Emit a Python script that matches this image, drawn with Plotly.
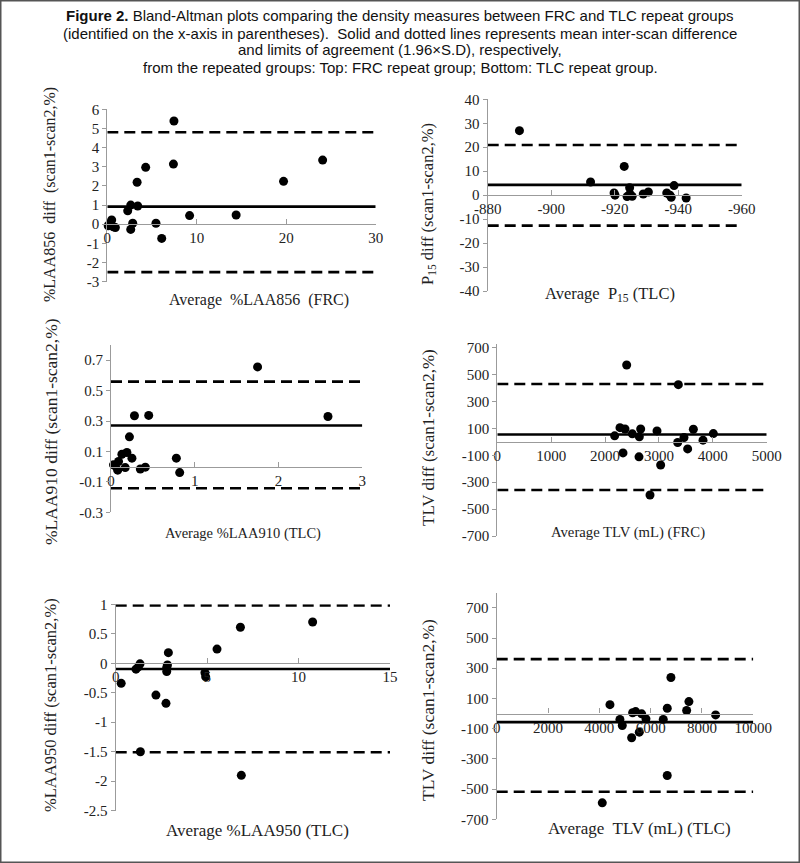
import plotly.graph_objects as go

W, H = 800, 863

# ---------------- data ----------------
# Panel A: %LAA856 (FRC)
laa856_avg = [7.45, 7.39, 4.29, 3.33, 24.07, 19.7, 9.2, 14.4, 2.62, 3.4, 2.28, 0.49, 0.30, 0.67, 0.1, 0.9, 2.84, 2.62, 5.44, 6.08]
laa856_diff = [5.39, 3.14, 2.97, 2.19, 3.35, 2.24, 0.45, 0.48, 1.0, 0.95, 0.70, 0.22, 0.05, -0.13, -0.08, -0.17, 0.05, -0.27, 0.05, -0.74]
laa856_lines = [0.92, 4.8, -2.5]  # mean, upper LoA, lower LoA

# Panel B: P15 (TLC)
p15_avg = [-890.0, -912.4, -923.0, -924.7, -919.8, -920.1, -923.9, -924.8, -925.5, -929.0, -930.6, -936.4, -937.4, -937.8, -938.7, -942.5]
p15_diff = [26.9, 5.5, 12.0, 3.1, 0.9, 0.0, -0.6, 0.5, -0.5, 0.5, 1.3, 0.9, 0.0, -0.9, 4.0, -1.2]
p15_lines = [4.3, 20.9, -12.7]

# Panel C: %LAA910 (TLC)
laa910_avg = [1.75, 2.59, 0.28, 0.45, 0.22, 0.13, 0.19, 0.25, 0.78, 0.03, 0.09, 0.08, 0.17, 0.35, 0.41, 0.82, 0.05]
laa910_diff = [0.656, 0.33, 0.335, 0.337, 0.196, 0.082, 0.093, 0.056, 0.056, 0.012, 0.034, -0.023, -0.006, -0.015, -0.003, -0.039, 0.005]
laa910_lines = [0.271, 0.559, -0.142]

# Panel D: TLV (FRC)
tlvf_avg = [2401, 3360, 2178, 2277, 2370, 2333, 2506, 2661, 2636, 2630, 2964, 3032, 2834, 3348, 3465, 3533, 3639, 3818, 4010]
tlvf_diff = [572, 426, 45, 106, 96, -82, 60, 96, 38, -111, 82, -172, -395, -4, 33, -52, 94, 13, 62]
tlvf_lines = [55, 431, -358]

# Panel E: %LAA950 (TLC)
laa950_avg = [10.77, 6.82, 5.54, 2.88, 1.33, 1.24, 1.11, 2.83, 2.79, 2.79, 4.88, 4.92, 0.30, 2.20, 2.75, 1.35, 6.87]
laa950_diff = [0.70, 0.61, 0.24, 0.18, -0.01, -0.06, -0.10, -0.03, -0.07, -0.14, -0.16, -0.23, -0.34, -0.54, -0.68, -1.50, -1.90]
laa950_lines = [-0.097, 0.98, -1.51]

# Panel F: TLV (TLC)
tlvt_avg = [4414, 4803, 4894, 5298, 5415, 5649, 5817, 5259, 5556, 6491, 6647, 7402, 7491, 8531, 6790, 6646, 4114]
tlvt_diff = [59, -39, -79, 5, 13, -2, -35, -160, -123, -39, 35, 20, 79, -9, 239, -410, -591]
tlvt_lines = [-57, 360, -518]

# tick labels
laa856_xticks = [0, 10, 20, 30]
laa856_yticks = [-3, -2, -1, 0, 1, 2, 3, 4, 5, 6]
p15_xticks = [-880, -900, -920, -940, -960]
p15_yticks = [-40, -30, -20, -10, 0, 10, 20, 30, 40]
laa910_xticks = [0, 1, 2, 3]
laa910_yticks = [-0.3, -0.1, 0.1, 0.3, 0.5, 0.7]
tlvf_xticks = [0, 1000, 2000, 3000, 4000, 5000]
tlvf_yticks = [-700, -500, -300, -100, 100, 300, 500, 700]
laa950_xticks = [0, 5, 10, 15]
laa950_yticks = [-2.5, -2, -1.5, -1, -0.5, 0, 0.5, 1]
tlvt_xticks = [0, 2000, 4000, 6000, 8000, 10000]
tlvt_yticks = [-700, -500, -300, -100, 100, 300, 500, 700]

# ---------------- layout helpers ----------------
SERIF = "Liberation Serif, Times New Roman, serif"
AXC = "#9b9b9b"

panels = [
    dict(x=laa856_avg, y=laa856_diff, lines=laa856_lines, xr=[0, 30], yr=[-3, 6],
         xt=laa856_xticks, yt=laa856_yticks, px=[107.3, 375.7], py=[109.3, 281.7],
         xtitle="Average  %LAA856  (FRC)", xtp=(259, 300), xts=16,
         ytitle="%LAA856  diff  (scan1-scan2,%)", ytp=(50, 195), yts=16),
    dict(x=p15_avg, y=p15_diff, lines=p15_lines, xr=[-880, -960], yr=[-40, 40],
         xt=p15_xticks, yt=p15_yticks, px=[487.7, 741.7], py=[99.3, 291.0],
         xtitle="Average  P<sub>15</sub> (TLC)", xtp=(610, 294), xts=16.5,
         ytitle="P<sub>15</sub> diff (scan1-scan2,%)", ytp=(428, 204), yts=16.5),
    dict(x=laa910_avg, y=laa910_diff, lines=laa910_lines, xr=[0, 3], yr=[-0.3, 0.8],
         xt=laa910_xticks, yt=laa910_yticks, px=[111.0, 362.3], py=[345.0, 512.3],
         xtitle="Average %LAA910 (TLC)", xtp=(243, 533), xts=14.5,
         ytitle="%LAA910 diff (scan1-scan2,%)", ytp=(51, 432), yts=17.5),
    dict(x=tlvf_avg, y=tlvf_diff, lines=tlvf_lines, xr=[0, 5000], yr=[-700, 730],
         xt=tlvf_xticks, yt=tlvf_yticks, px=[497.3, 766.7], py=[343.8, 536.0],
         xtitle="Average TLV (mL) (FRC)", xtp=(628, 532), xts=14.7,
         ytitle="TLV diff (scan1-scan2,%)", ytp=(428, 438), yts=17),
    dict(x=laa950_avg, y=laa950_diff, lines=laa950_lines, xr=[0, 15], yr=[-2.5, 1],
         xt=laa950_xticks, yt=laa950_yticks, px=[115.7, 390.0], py=[604.3, 810.7],
         xtitle="Average %LAA950 (TLC)", xtp=(257, 830), xts=17,
         ytitle="%LAA950 diff (scan1-scan2,%)", ytp=(50, 705), yts=16.5),
    dict(x=tlvt_avg, y=tlvt_diff, lines=tlvt_lines, xr=[0, 10000], yr=[-700, 800],
         xt=tlvt_xticks, yt=tlvt_yticks, px=[496.7, 753.3], py=[592.7, 819.3],
         xtitle="Average  TLV (mL) (TLC)", xtp=(639, 828), xts=17,
         ytitle="TLV diff (scan1-scan2,%)", ytp=(428, 710), yts=17.5),
]

fig = go.Figure()
layout = dict(width=W, height=H, margin=dict(l=0, r=0, t=0, b=0, autoexpand=False),
              paper_bgcolor="white", plot_bgcolor="white", showlegend=False)
annotations = []


def fmt(v):
    return f"{v:g}"


for i, p in enumerate(panels, start=1):
    xa = "x" if i == 1 else f"x{i}"
    ya = "y" if i == 1 else f"y{i}"
    xkey = "xaxis" if i == 1 else f"xaxis{i}"
    ykey = "yaxis" if i == 1 else f"yaxis{i}"
    y_dom = [1 - p["py"][1] / H, 1 - p["py"][0] / H]
    x_dom = [p["px"][0] / W, p["px"][1] / W]
    ymin, ymax = p["yr"]
    zero_pos = y_dom[0] + (0 - ymin) / (ymax - ymin) * (y_dom[1] - y_dom[0])

    layout[xkey] = dict(domain=x_dom, range=p["xr"], anchor="free", position=zero_pos,
                        automargin=False,
                        showline=True, linecolor=AXC, linewidth=1.2,
                        ticks="inside", ticklen=5, tickcolor=AXC, tickwidth=1,
                        showgrid=False, zeroline=False,
                        tickmode="array", tickvals=p["xt"], ticktext=[fmt(v) for v in p["xt"]],
                        tickfont=dict(family=SERIF, size=15, color="#222"))
    layout[ykey] = dict(domain=y_dom, range=p["yr"], anchor=xa, automargin=False,
                        showline=True, linecolor=AXC, linewidth=1.2,
                        ticks="outside", ticklen=4, tickcolor=AXC, tickwidth=1,
                        showgrid=False, zeroline=False,
                        tickmode="array", tickvals=p["yt"], ticktext=[fmt(v) for v in p["yt"]],
                        tickfont=dict(family=SERIF, size=15, color="#222"))

    mean, up, lo = p["lines"]
    xr = p["xr"]
    fig.add_trace(go.Scatter(x=xr, y=[up, up], mode="lines", xaxis=xa, yaxis=ya,
                             line=dict(color="black", width=2.6, dash="11px,6px"), hoverinfo="skip"))
    fig.add_trace(go.Scatter(x=xr, y=[lo, lo], mode="lines", xaxis=xa, yaxis=ya,
                             line=dict(color="black", width=2.6, dash="11px,6px"), hoverinfo="skip"))
    fig.add_trace(go.Scatter(x=xr, y=[mean, mean], mode="lines", xaxis=xa, yaxis=ya,
                             line=dict(color="black", width=2.6), hoverinfo="skip"))
    fig.add_trace(go.Scatter(x=p["x"], y=p["y"], mode="markers", xaxis=xa, yaxis=ya,
                             marker=dict(color="black", size=9), cliponaxis=False))

    annotations.append(dict(text=p["xtitle"], x=p["xtp"][0] / W, y=1 - p["xtp"][1] / H,
                            xref="paper", yref="paper", showarrow=False,
                            xanchor="center", yanchor="middle",
                            font=dict(family=SERIF, size=p["xts"], color="#222")))
    annotations.append(dict(text=p["ytitle"], x=p["ytp"][0] / W, y=1 - p["ytp"][1] / H,
                            xref="paper", yref="paper", showarrow=False, textangle=-90,
                            xanchor="center", yanchor="middle",
                            font=dict(family=SERIF, size=p["yts"], color="#222")))

title_lines = [
    "<b>Figure 2.</b> Bland-Altman plots comparing the density measures between FRC and TLC repeat groups",
    "(identified on the x-axis in parentheses).  Solid and dotted lines represents mean inter-scan difference",
    "and limits of agreement (1.96×S.D), respectively,",
    "from the repeated groups: Top: FRC repeat group; Bottom: TLC repeat group.",
]
title_y = [16, 33, 50, 67]
for t, yy in zip(title_lines, title_y):
    annotations.append(dict(text=t, x=0.5, y=1 - yy / H, xref="paper", yref="paper",
                            showarrow=False, xanchor="center", yanchor="middle",
                            font=dict(family="Liberation Sans, Arial, sans-serif",
                                      size=15, color="#111")))

layout["annotations"] = annotations
layout["shapes"] = [dict(type="rect", xref="paper", yref="paper", x0=0, x1=1, y0=0, y1=1,
                         line=dict(color="#555", width=3), fillcolor="rgba(0,0,0,0)")]
fig.update_layout(template="none")
fig.update_layout(**layout)
fig.write_html("out.html", config={"displayModeBar": False},
               post_script="document.body.style.margin='0px';")
